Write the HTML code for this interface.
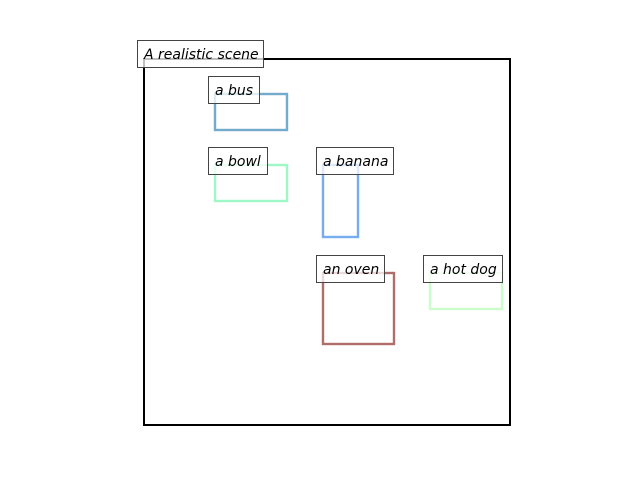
<!DOCTYPE html>
<html><head><meta charset="utf-8"><style>
html,body{margin:0;padding:0;background:#fff;width:640px;height:480px;overflow:hidden}
text{font-family:"DejaVu Sans","Liberation Sans",sans-serif;font-style:italic;font-size:14px;fill:#000}
</style></head><body>
<svg width="640" height="480" viewBox="0 0 640 480" xmlns="http://www.w3.org/2000/svg">
<rect x="144" y="59" width="366" height="366" fill="none" stroke="#000" stroke-width="2"/>
<g fill="none" stroke-width="2.4">
<rect x="215" y="94" width="72" height="36" stroke="#74aacb"/>
<rect x="215" y="165" width="72" height="36" stroke="#9ef8c6"/>
<rect x="323" y="165" width="35" height="72" stroke="#76adee"/>
<rect x="323" y="273" width="71" height="71" stroke="#b06e6a"/>
<rect x="430" y="273" width="72" height="36" stroke="#ccfccc"/>
</g>
<g fill="#fff" fill-opacity="0.75" stroke="#444" stroke-width="1">
<rect x="137.5" y="40.5" width="126" height="27"/>
<rect x="208.5" y="76.5" width="51" height="27"/>
<rect x="208.5" y="147.5" width="59" height="27"/>
<rect x="316.5" y="147.5" width="77" height="27"/>
<rect x="316.5" y="255.5" width="68" height="27"/>
<rect x="423.5" y="255.5" width="79" height="27"/>
</g>
<text x="144" y="59">A realistic scene</text>
<text x="215" y="95">a bus</text>
<text x="215" y="166">a bowl</text>
<text x="323" y="166">a banana</text>
<text x="323" y="274">an oven</text>
<text x="430" y="274">a hot dog</text>
</svg>
</body></html>
